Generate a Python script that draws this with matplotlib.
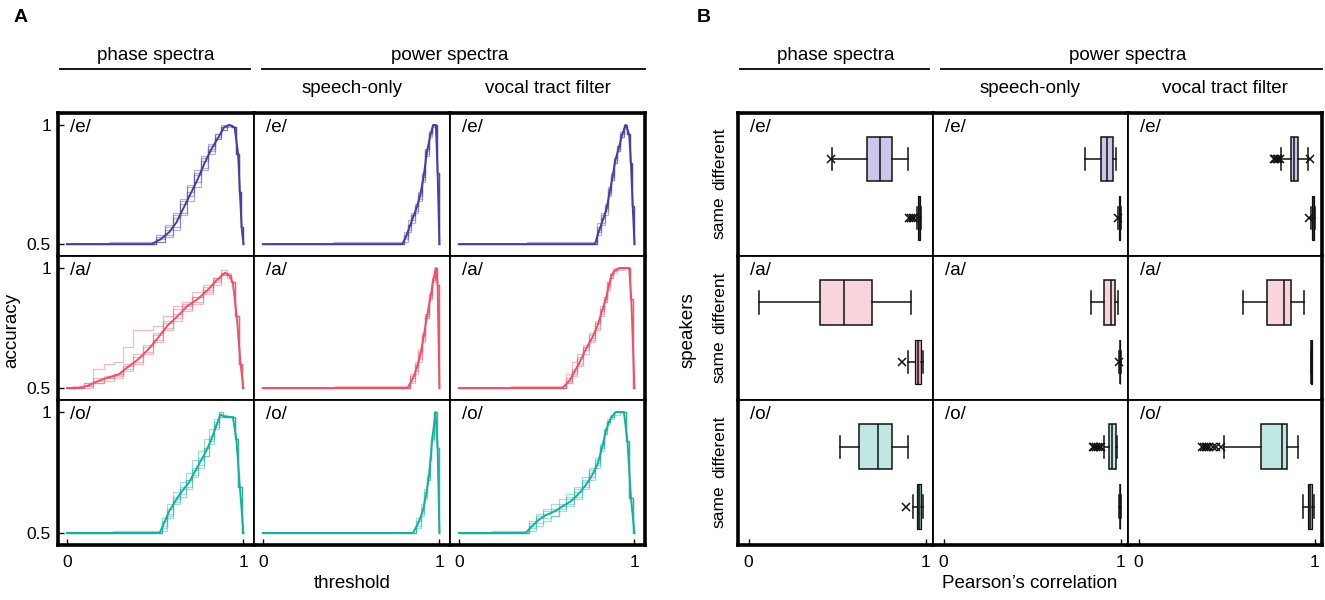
import matplotlib
matplotlib.use('Agg')
import matplotlib.pyplot as plt
from matplotlib.lines import Line2D

plt.rcParams['font.family'] = ['Liberation Sans', 'DejaVu Sans']

vowels = ['/e/', '/a/', '/o/']
conditions = ['phase', 'speech', 'vocal']
line_colors = {'/e/': '#4a3d9b', '/a/': '#e8536b', '/o/': '#19ae9e'}
box_colors = {'/e/': '#ccc7ea', '/a/': '#fad4dc', '/o/': '#c0e8e2'}
same_box_colors = {'/e/': '#8c88aa', '/a/': '#d9a9b3', '/o/': '#7fa9a5'}

# ---- panel A: accuracy vs threshold (mean curve + individual runs) ----
e_phase_t = [0, 0.48, 0.53, 0.58, 0.62, 0.66, 0.70, 0.74, 0.78, 0.82, 0.86, 0.89, 0.92, 0.95, 0.97, 0.98, 0.99, 1.0]
e_phase_mean = [0.5, 0.5, 0.52, 0.55, 0.59, 0.65, 0.71, 0.77, 0.84, 0.90, 0.95, 0.99, 1.0, 0.99, 0.88, 0.72, 0.57, 0.5]
e_phase_runs = [
    [0.5, 0.5, 0.53, 0.57, 0.63, 0.69, 0.75, 0.81, 0.87, 0.92, 0.96, 0.99, 1.0, 0.99, 0.88, 0.72, 0.57, 0.5],
    [0.5, 0.5, 0.51, 0.54, 0.57, 0.62, 0.68, 0.74, 0.81, 0.88, 0.94, 0.98, 1.0, 0.99, 0.88, 0.72, 0.57, 0.5],
    [0.5, 0.5, 0.52, 0.56, 0.61, 0.67, 0.74, 0.80, 0.85, 0.91, 0.95, 0.98, 0.99, 0.99, 0.88, 0.72, 0.57, 0.5],
    [0.5, 0.5, 0.51, 0.53, 0.56, 0.63, 0.70, 0.76, 0.82, 0.89, 0.94, 0.99, 1.0, 0.99, 0.88, 0.72, 0.57, 0.5],
    [0.5, 0.51, 0.54, 0.58, 0.62, 0.68, 0.72, 0.79, 0.86, 0.90, 0.96, 1.0, 1.0, 0.99, 0.88, 0.72, 0.57, 0.5],
]
e_speech_t = [0, 0.79, 0.81, 0.83, 0.85, 0.87, 0.89, 0.91, 0.93, 0.95, 0.965, 0.98, 0.99, 1.0]
e_speech_mean = [0.5, 0.5, 0.53, 0.57, 0.61, 0.65, 0.70, 0.78, 0.89, 0.96, 1.0, 1.0, 0.80, 0.5]
e_speech_runs = [
    [0.5, 0.5, 0.55, 0.60, 0.63, 0.67, 0.72, 0.80, 0.90, 0.97, 1.0, 1.0, 0.80, 0.5],
    [0.5, 0.5, 0.51, 0.55, 0.60, 0.64, 0.69, 0.76, 0.87, 0.95, 1.0, 1.0, 0.80, 0.5],
    [0.5, 0.51, 0.54, 0.58, 0.62, 0.66, 0.71, 0.79, 0.88, 0.96, 0.99, 1.0, 0.80, 0.5],
    [0.5, 0.5, 0.52, 0.56, 0.59, 0.63, 0.68, 0.77, 0.89, 0.96, 1.0, 1.0, 0.80, 0.5],
    [0.5, 0.5, 0.53, 0.58, 0.62, 0.66, 0.70, 0.78, 0.90, 0.97, 1.0, 1.0, 0.80, 0.5],
]
e_vocal_t = [0, 0.775, 0.80, 0.82, 0.84, 0.86, 0.875, 0.89, 0.91, 0.93, 0.95, 0.97, 0.98, 0.99, 1.0]
e_vocal_mean = [0.5, 0.5, 0.56, 0.60, 0.645, 0.72, 0.78, 0.85, 0.90, 0.96, 1.0, 0.96, 0.84, 0.66, 0.5]
e_vocal_runs = [
    [0.5, 0.51, 0.59, 0.63, 0.66, 0.70, 0.77, 0.86, 0.91, 0.96, 1.0, 0.96, 0.84, 0.66, 0.5],
    [0.5, 0.5, 0.54, 0.58, 0.64, 0.73, 0.79, 0.84, 0.89, 0.95, 0.99, 0.96, 0.84, 0.66, 0.5],
    [0.5, 0.5, 0.57, 0.62, 0.62, 0.71, 0.78, 0.86, 0.91, 0.97, 1.0, 0.96, 0.84, 0.66, 0.5],
    [0.5, 0.5, 0.55, 0.59, 0.65, 0.74, 0.80, 0.85, 0.90, 0.95, 1.0, 0.96, 0.84, 0.66, 0.5],
    [0.5, 0.5, 0.56, 0.61, 0.67, 0.72, 0.77, 0.84, 0.89, 0.96, 1.0, 0.96, 0.84, 0.66, 0.5],
]

a_phase_t = [0, 0.07, 0.12, 0.18, 0.24, 0.29, 0.35, 0.405, 0.46, 0.517, 0.57, 0.628, 0.68, 0.74, 0.80, 0.85, 0.895, 0.92, 0.94, 0.962, 0.984, 1.0]
a_phase_mean = [0.5, 0.5, 0.51, 0.53, 0.545, 0.555, 0.59, 0.62, 0.66, 0.71, 0.76, 0.80, 0.84, 0.87, 0.91, 0.95, 0.98, 0.97, 0.94, 0.80, 0.60, 0.5]
a_phase_runs = [
    [0.5, 0.5, 0.52, 0.58, 0.60, 0.61, 0.67, 0.74, 0.74, 0.76, 0.80, 0.84, 0.86, 0.90, 0.93, 0.96, 0.99, 0.97, 0.94, 0.80, 0.60, 0.5],
    [0.5, 0.51, 0.52, 0.54, 0.55, 0.56, 0.60, 0.64, 0.68, 0.72, 0.78, 0.83, 0.85, 0.88, 0.92, 0.96, 0.98, 0.97, 0.94, 0.80, 0.60, 0.5],
    [0.5, 0.5, 0.50, 0.52, 0.53, 0.54, 0.57, 0.60, 0.64, 0.69, 0.74, 0.78, 0.82, 0.85, 0.89, 0.94, 0.97, 0.96, 0.94, 0.80, 0.60, 0.5],
    [0.5, 0.5, 0.51, 0.53, 0.54, 0.55, 0.58, 0.61, 0.65, 0.70, 0.75, 0.79, 0.83, 0.86, 0.90, 0.93, 0.97, 0.98, 0.94, 0.80, 0.60, 0.5],
    [0.5, 0.5, 0.51, 0.52, 0.54, 0.56, 0.59, 0.63, 0.67, 0.73, 0.77, 0.81, 0.84, 0.88, 0.91, 0.95, 0.98, 0.97, 0.94, 0.80, 0.60, 0.5],
]
a_speech_t = [0, 0.82, 0.85, 0.87, 0.89, 0.91, 0.93, 0.95, 0.965, 0.98, 0.99, 1.0]
a_speech_mean = [0.5, 0.5, 0.54, 0.58, 0.63, 0.71, 0.80, 0.88, 0.95, 1.0, 0.93, 0.5]
a_speech_runs = [
    [0.5, 0.5, 0.56, 0.61, 0.66, 0.73, 0.81, 0.89, 0.96, 1.0, 0.93, 0.5],
    [0.5, 0.5, 0.52, 0.56, 0.61, 0.69, 0.79, 0.87, 0.95, 1.0, 0.93, 0.5],
    [0.5, 0.51, 0.55, 0.59, 0.64, 0.72, 0.79, 0.88, 0.94, 1.0, 0.93, 0.5],
    [0.5, 0.5, 0.53, 0.57, 0.62, 0.70, 0.81, 0.89, 0.95, 1.0, 0.93, 0.5],
    [0.5, 0.5, 0.54, 0.60, 0.65, 0.72, 0.80, 0.87, 0.96, 1.0, 0.93, 0.5],
]
a_vocal_t = [0, 0.59, 0.63, 0.66, 0.69, 0.725, 0.76, 0.79, 0.815, 0.837, 0.855, 0.87, 0.89, 0.915, 0.97, 0.982, 1.0]
a_vocal_mean = [0.5, 0.5, 0.53, 0.57, 0.61, 0.665, 0.71, 0.76, 0.82, 0.87, 0.93, 0.97, 0.99, 1.0, 1.0, 0.87, 0.5]
a_vocal_runs = [
    [0.5, 0.51, 0.56, 0.61, 0.64, 0.67, 0.72, 0.77, 0.83, 0.88, 0.94, 0.98, 0.99, 1.0, 1.0, 0.87, 0.5],
    [0.5, 0.5, 0.52, 0.55, 0.59, 0.64, 0.69, 0.74, 0.80, 0.86, 0.92, 0.96, 0.99, 1.0, 1.0, 0.87, 0.5],
    [0.5, 0.5, 0.54, 0.58, 0.62, 0.68, 0.73, 0.78, 0.84, 0.88, 0.93, 0.97, 1.0, 1.0, 1.0, 0.87, 0.5],
    [0.5, 0.5, 0.52, 0.56, 0.60, 0.66, 0.70, 0.75, 0.81, 0.86, 0.91, 0.96, 0.98, 0.99, 1.0, 0.87, 0.5],
    [0.5, 0.5, 0.53, 0.57, 0.63, 0.67, 0.71, 0.77, 0.82, 0.87, 0.94, 0.97, 0.99, 1.0, 1.0, 0.87, 0.5],
]

o_phase_t = [0, 0.526, 0.55, 0.58, 0.626, 0.66, 0.693, 0.73, 0.76, 0.79, 0.82, 0.85, 0.87, 0.895, 0.92, 0.94, 0.96, 0.98, 1.0]
o_phase_mean = [0.5, 0.5, 0.54, 0.59, 0.645, 0.68, 0.71, 0.76, 0.80, 0.84, 0.89, 0.95, 0.99, 0.98, 0.98, 0.98, 0.89, 0.69, 0.5]
o_phase_runs = [
    [0.5, 0.51, 0.56, 0.62, 0.67, 0.71, 0.75, 0.80, 0.84, 0.89, 0.93, 0.97, 1.0, 0.99, 0.98, 0.98, 0.89, 0.69, 0.5],
    [0.5, 0.5, 0.52, 0.57, 0.63, 0.66, 0.69, 0.74, 0.78, 0.82, 0.87, 0.93, 0.98, 0.98, 0.98, 0.98, 0.89, 0.69, 0.5],
    [0.5, 0.5, 0.53, 0.58, 0.65, 0.69, 0.72, 0.77, 0.81, 0.85, 0.90, 0.96, 0.99, 0.99, 0.98, 0.98, 0.89, 0.69, 0.5],
    [0.5, 0.5, 0.51, 0.56, 0.62, 0.65, 0.68, 0.73, 0.77, 0.82, 0.88, 0.94, 0.98, 0.98, 0.98, 0.98, 0.89, 0.69, 0.5],
    [0.5, 0.5, 0.55, 0.60, 0.64, 0.68, 0.72, 0.76, 0.80, 0.85, 0.89, 0.95, 1.0, 0.98, 0.98, 0.98, 0.89, 0.69, 0.5],
]
o_speech_t = [0, 0.85, 0.88, 0.906, 0.925, 0.94, 0.95, 0.96, 0.978, 0.99, 1.0]
o_speech_mean = [0.5, 0.5, 0.54, 0.59, 0.66, 0.73, 0.81, 0.89, 1.0, 0.85, 0.5]
o_speech_runs = [
    [0.5, 0.5, 0.56, 0.62, 0.68, 0.74, 0.82, 0.90, 1.0, 0.85, 0.5],
    [0.5, 0.5, 0.52, 0.57, 0.64, 0.72, 0.80, 0.88, 1.0, 0.85, 0.5],
    [0.5, 0.5, 0.55, 0.60, 0.67, 0.73, 0.81, 0.89, 1.0, 0.85, 0.5],
    [0.5, 0.5, 0.53, 0.58, 0.65, 0.72, 0.80, 0.89, 1.0, 0.85, 0.5],
]
o_vocal_t = [0, 0.38, 0.42, 0.457, 0.50, 0.547, 0.59, 0.636, 0.68, 0.725, 0.76, 0.79, 0.815, 0.837, 0.855, 0.87, 0.893, 0.94, 0.96, 0.98, 1.0]
o_vocal_mean = [0.5, 0.5, 0.53, 0.555, 0.575, 0.59, 0.61, 0.63, 0.66, 0.70, 0.74, 0.785, 0.85, 0.92, 0.96, 0.98, 1.0, 1.0, 0.88, 0.645, 0.5]
o_vocal_runs = [
    [0.5, 0.51, 0.55, 0.58, 0.60, 0.62, 0.64, 0.66, 0.69, 0.73, 0.77, 0.81, 0.87, 0.93, 0.97, 0.99, 1.0, 1.0, 0.88, 0.645, 0.5],
    [0.5, 0.5, 0.52, 0.54, 0.56, 0.57, 0.59, 0.61, 0.64, 0.68, 0.72, 0.77, 0.84, 0.91, 0.95, 0.98, 1.0, 1.0, 0.88, 0.645, 0.5],
    [0.5, 0.5, 0.54, 0.57, 0.59, 0.60, 0.62, 0.65, 0.68, 0.72, 0.76, 0.80, 0.86, 0.92, 0.96, 0.98, 1.0, 1.0, 0.88, 0.645, 0.5],
    [0.5, 0.5, 0.51, 0.53, 0.55, 0.57, 0.60, 0.62, 0.65, 0.69, 0.73, 0.78, 0.85, 0.91, 0.96, 0.97, 0.99, 1.0, 0.88, 0.645, 0.5],
    [0.5, 0.5, 0.53, 0.56, 0.58, 0.59, 0.61, 0.64, 0.67, 0.71, 0.75, 0.79, 0.86, 0.93, 0.96, 0.98, 1.0, 1.0, 0.88, 0.645, 0.5],
]

# ---- panel B: Pearson's correlation box stats [whislo, q1, med, q3, whishi] ----
e_phase_diff, e_phase_diff_fl = [0.47, 0.67, 0.74, 0.81, 0.90], [0.465]
e_phase_same, e_phase_same_fl = [0.95, 0.958, 0.962, 0.968, 0.975], [0.905, 0.915, 0.925, 0.935]
e_speech_diff, e_speech_diff_fl = [0.80, 0.885, 0.92, 0.955, 0.972], []
e_speech_same, e_speech_same_fl = [0.985, 0.99, 0.993, 0.996, 0.999], [0.982]
e_vocal_diff, e_vocal_diff_fl = [0.806, 0.863, 0.884, 0.906, 0.959], [0.765, 0.775, 0.785, 0.79, 0.80, 0.97]
e_vocal_same, e_vocal_same_fl = [0.98, 0.985, 0.99, 0.995, 0.999], [0.965]

a_phase_diff, a_phase_diff_fl = [0.06, 0.405, 0.538, 0.695, 0.918], []
a_phase_same, a_phase_same_fl = [0.898, 0.937, 0.955, 0.973, 0.984], [0.864]
a_speech_diff, a_speech_diff_fl = [0.83, 0.905, 0.945, 0.966, 0.984], []
a_speech_same, a_speech_same_fl = [0.99, 0.993, 0.995, 0.997, 0.999], [0.99]
a_vocal_diff, a_vocal_diff_fl = [0.591, 0.726, 0.824, 0.863, 0.936], []
a_vocal_same, a_vocal_same_fl = [0.975, 0.978, 0.98, 0.983, 0.986], []

o_phase_diff, o_phase_diff_fl = [0.518, 0.622, 0.731, 0.808, 0.90], []
o_phase_same, o_phase_same_fl = [0.927, 0.95, 0.96, 0.97, 0.984], [0.89]
o_speech_diff, o_speech_diff_fl = [0.903, 0.93, 0.95, 0.97, 0.977], [0.84, 0.85, 0.86, 0.87, 0.88, 0.89]
o_speech_same, o_speech_same_fl = [0.99, 0.993, 0.995, 0.997, 0.999], []
o_vocal_diff, o_vocal_diff_fl = [0.486, 0.696, 0.813, 0.84, 0.902], [0.36, 0.37, 0.38, 0.39, 0.40, 0.42, 0.44, 0.468]
o_vocal_same, o_vocal_same_fl = [0.932, 0.959, 0.97, 0.982, 0.993], []

curves = {
    ('/e/', 'phase'): (e_phase_t, e_phase_mean, e_phase_runs),
    ('/e/', 'speech'): (e_speech_t, e_speech_mean, e_speech_runs),
    ('/e/', 'vocal'): (e_vocal_t, e_vocal_mean, e_vocal_runs),
    ('/a/', 'phase'): (a_phase_t, a_phase_mean, a_phase_runs),
    ('/a/', 'speech'): (a_speech_t, a_speech_mean, a_speech_runs),
    ('/a/', 'vocal'): (a_vocal_t, a_vocal_mean, a_vocal_runs),
    ('/o/', 'phase'): (o_phase_t, o_phase_mean, o_phase_runs),
    ('/o/', 'speech'): (o_speech_t, o_speech_mean, o_speech_runs),
    ('/o/', 'vocal'): (o_vocal_t, o_vocal_mean, o_vocal_runs),
}
boxes = {
    ('/e/', 'phase'): (e_phase_diff, e_phase_diff_fl, e_phase_same, e_phase_same_fl),
    ('/e/', 'speech'): (e_speech_diff, e_speech_diff_fl, e_speech_same, e_speech_same_fl),
    ('/e/', 'vocal'): (e_vocal_diff, e_vocal_diff_fl, e_vocal_same, e_vocal_same_fl),
    ('/a/', 'phase'): (a_phase_diff, a_phase_diff_fl, a_phase_same, a_phase_same_fl),
    ('/a/', 'speech'): (a_speech_diff, a_speech_diff_fl, a_speech_same, a_speech_same_fl),
    ('/a/', 'vocal'): (a_vocal_diff, a_vocal_diff_fl, a_vocal_same, a_vocal_same_fl),
    ('/o/', 'phase'): (o_phase_diff, o_phase_diff_fl, o_phase_same, o_phase_same_fl),
    ('/o/', 'speech'): (o_speech_diff, o_speech_diff_fl, o_speech_same, o_speech_same_fl),
    ('/o/', 'vocal'): (o_vocal_diff, o_vocal_diff_fl, o_vocal_same, o_vocal_same_fl),
}

W, H = 1325, 600
fig = plt.figure(figsize=(W / 100, H / 100), dpi=100)

rows_px = [113, 256, 400, 545]
colsA_px = [58, 254, 450, 645]
colsB_px = [738, 933, 1128, 1322]


def px_axes(x0, y0, x1, y1):
    return fig.add_axes([x0 / W, 1 - y1 / H, (x1 - x0) / W, (y1 - y0) / H])


def style_frame(ax, r, c):
    outer, inner = 2.6, 1.3
    ax.spines['left'].set_linewidth(outer if c == 0 else inner)
    ax.spines['right'].set_linewidth(outer if c == 2 else inner)
    ax.spines['top'].set_linewidth(outer if r == 0 else inner)
    ax.spines['bottom'].set_linewidth(outer if r == 2 else inner)


def stat(v, fl):
    return dict(whislo=v[0], q1=v[1], med=v[2], q3=v[3], whishi=v[4], fliers=fl)


for r, vowel in enumerate(vowels):
    col = line_colors[vowel]
    for c, cond in enumerate(conditions):
        # panel A cell
        ax = px_axes(colsA_px[c], rows_px[r], colsA_px[c + 1], rows_px[r + 1])
        t, mean, runs = curves[(vowel, cond)]
        for run in runs:
            ax.plot(t, run, drawstyle='steps-mid', color=col, lw=0.9, alpha=0.4)
        ax.plot(t, mean, color=col, lw=1.4)
        ax.set_xlim(-0.05, 1.06)
        ax.set_ylim(0.45, 1.05)
        ax.text(0.06, 0.96, vowel, transform=ax.transAxes, fontsize=13.5, va='top', ha='left')
        style_frame(ax, r, c)
        ax.tick_params(direction='in', length=4, width=1, labelsize=12.5, pad=5)
        ax.set_xticks([0, 1])
        ax.set_xticklabels(['0', '1'])
        ax.set_yticks([0.5, 1])
        ax.set_yticklabels(['0.5', '1'])
        if r != 2:
            ax.tick_params(axis='x', bottom=False, labelbottom=False)
        else:
            ax.tick_params(axis='x', pad=7)
        if c != 0:
            ax.tick_params(axis='y', left=False, labelleft=False)

        # panel B cell
        bx = px_axes(colsB_px[c], rows_px[r], colsB_px[c + 1], rows_px[r + 1])
        diff, diff_fl, same, same_fl = boxes[(vowel, cond)]
        parts = bx.bxp([stat(diff, diff_fl), stat(same, same_fl)], positions=[1, 0], widths=0.75,
                       orientation='horizontal', patch_artist=True,
                       boxprops=dict(facecolor=box_colors[vowel], edgecolor='#111111', linewidth=1.1),
                       medianprops=dict(color='#111111', linewidth=1.1),
                       whiskerprops=dict(color='#111111', linewidth=1.1),
                       capprops=dict(color='#111111', linewidth=1.1),
                       flierprops=dict(marker='x', markeredgecolor='#111111', markersize=6, markeredgewidth=1.1))
        parts['boxes'][1].set_facecolor(same_box_colors[vowel])
        parts['boxes'][1].set_linewidth(0.9)
        bx.set_xlim(-0.06, 1.04)
        bx.set_ylim(-0.64, 1.78)
        bx.text(0.06, 0.96, vowel, transform=bx.transAxes, fontsize=13.5, va='top', ha='left')
        style_frame(bx, r, c)
        bx.tick_params(direction='in', length=4, width=1, labelsize=12.5, pad=5)
        bx.set_xticks([0, 1])
        bx.set_xticklabels(['0', '1'])
        bx.set_yticks([1, 0])
        if c == 0:
            bx.set_yticklabels(['different', 'same'], rotation=90, va='center')
            bx.tick_params(axis='y', left=False, pad=8)
        else:
            bx.tick_params(axis='y', left=False, labelleft=False)
        if r != 2:
            bx.tick_params(axis='x', bottom=False, labelbottom=False)
        else:
            bx.tick_params(axis='x', pad=7)


# column headers
def header(cols):
    fig.text((cols[0] + cols[1]) / 2 / W, 1 - 55 / H, 'phase spectra', ha='center', va='center', fontsize=13.5)
    fig.text((cols[1] + cols[3]) / 2 / W, 1 - 55 / H, 'power spectra', ha='center', va='center', fontsize=13.5)
    fig.text((cols[1] + cols[2]) / 2 / W, 1 - 88 / H, 'speech-only', ha='center', va='center', fontsize=13.5)
    fig.text((cols[2] + cols[3]) / 2 / W, 1 - 88 / H, 'vocal tract filter', ha='center', va='center', fontsize=13.5)
    fig.add_artist(Line2D([(cols[0] + 2) / W, (cols[1] - 4) / W], [1 - 69 / H] * 2, color='black', lw=1.3))
    fig.add_artist(Line2D([(cols[1] + 8) / W, cols[3] / W], [1 - 69 / H] * 2, color='black', lw=1.3))


header(colsA_px)
header(colsB_px)

fig.text(14 / W, 1 - 17 / H, 'A', fontsize=14, fontweight='bold', ha='left', va='center')
fig.text(697 / W, 1 - 17 / H, 'B', fontsize=14, fontweight='bold', ha='left', va='center')
fig.text(12 / W, 1 - 330 / H, 'accuracy', rotation=90, ha='center', va='center', fontsize=13.5)
fig.text(688 / W, 1 - 330 / H, 'speakers', rotation=90, ha='center', va='center', fontsize=13.5)
fig.text(352 / W, 1 - 583 / H, 'threshold', ha='center', va='center', fontsize=13.5)
fig.text(1030 / W, 1 - 583 / H, 'Pearson\u2019s correlation', ha='center', va='center', fontsize=13.5)

fig.savefig('out.png', dpi=100)
